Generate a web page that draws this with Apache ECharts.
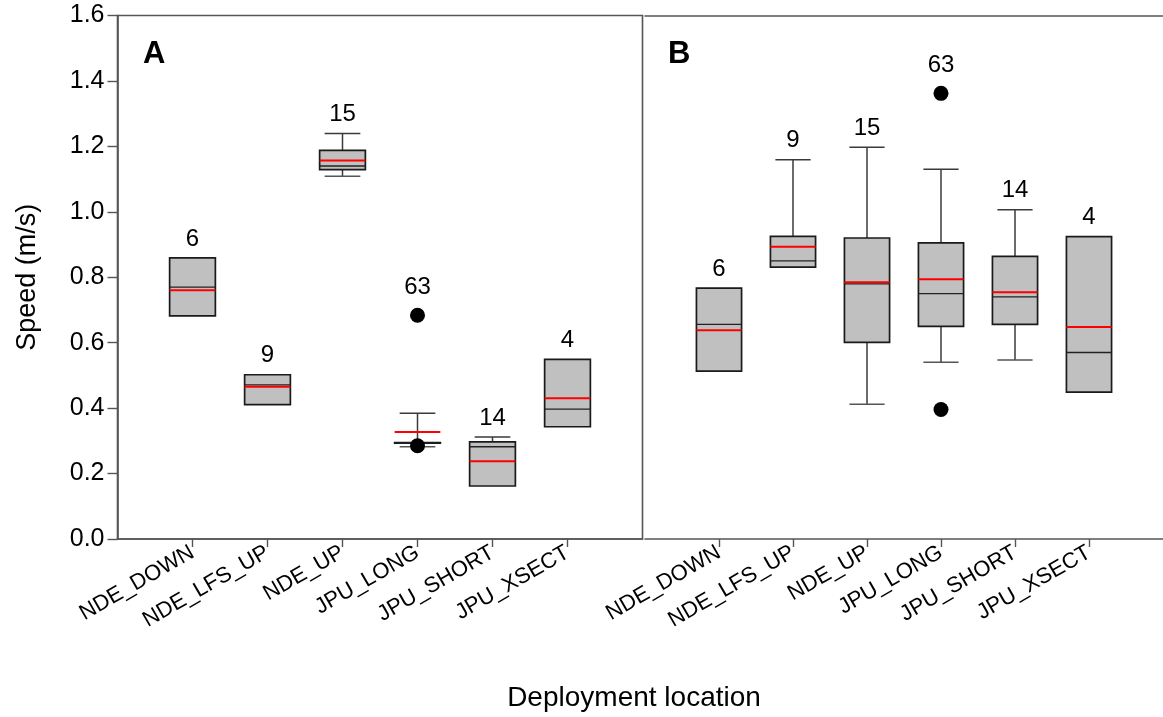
<!DOCTYPE html>
<html>
<head>
<meta charset="utf-8">
<script src="https://cdn.jsdelivr.net/npm/echarts@6/dist/echarts.min.js"></script>
<style>
html,body{margin:0;padding:0;background:#fff;}
#chart{width:1163px;height:717px;}
</style>
</head>
<body>
<div id="chart"></div>
<script>
var categories = ['NDE_DOWN', 'NDE_LFS_UP', 'NDE_UP', 'JPU_LONG', 'JPU_SHORT', 'JPU_XSECT'];
var counts = [6, 9, 15, 63, 14, 4];
var yTicks = [0.0, 0.2, 0.4, 0.6, 0.8, 1.0, 1.2, 1.4, 1.6];

// Panel A
var lowA   = [null, null, 1.109, 0.282, null, null];
var q1A    = [0.682, 0.411, 1.129, 0.293, 0.162, 0.343];
var medA   = [0.770, 0.471, 1.140, 0.294, 0.282, 0.397];
var q3A    = [0.859, 0.502, 1.188, 0.295, 0.297, 0.549];
var highA  = [null, null, 1.239, 0.384, 0.312, null];
var meanA  = [0.760, 0.465, 1.157, 0.327, 0.238, 0.430];
var outA   = [[], [], [], [0.684, 0.285], [], []];

// Panel B
var lowB   = [null, null, 0.412, 0.540, 0.547, null];
var q1B    = [0.513, 0.831, 0.601, 0.650, 0.656, 0.449];
var medB   = [0.656, 0.850, 0.780, 0.750, 0.740, 0.570];
var q3B    = [0.767, 0.925, 0.920, 0.905, 0.864, 0.924];
var highB  = [null, 1.159, 1.197, 1.130, 1.006, null];
var meanB  = [0.638, 0.893, 0.785, 0.794, 0.754, 0.648];
var outB   = [[], [], [], [1.362, 0.396], [], []];

var FONT = 'Liberation Sans, Arial, sans-serif';
var axisData = [''].concat(categories).concat(['']);

function makeRender(low, q1, med, q3, high, mean, outs) {
  return function (params, api) {
    var i = params.dataIndex;
    var x = i + 1;
    var boxHalf = api.size([1, 0])[0] * 0.305;
    var capHalf = boxHalf * 0.78;
    var c = function (v) { return api.coord([x, v]); };
    var children = [];
    var whiskerStyle = { stroke: '#3a3a3a', lineWidth: 1.5 };
    var cx = c(q1[i])[0];
    if (high[i] != null) {
      var pTop = c(high[i]), pQ3 = c(q3[i]);
      children.push({ type: 'line', shape: { x1: cx, y1: pTop[1], x2: cx, y2: pQ3[1] }, style: whiskerStyle });
      children.push({ type: 'line', shape: { x1: cx - capHalf, y1: pTop[1], x2: cx + capHalf, y2: pTop[1] }, style: whiskerStyle });
    }
    if (low[i] != null) {
      var pLow = c(low[i]), pQ1 = c(q1[i]);
      children.push({ type: 'line', shape: { x1: cx, y1: pQ1[1], x2: cx, y2: pLow[1] }, style: whiskerStyle });
      children.push({ type: 'line', shape: { x1: cx - capHalf, y1: pLow[1], x2: cx + capHalf, y2: pLow[1] }, style: { stroke: '#555', lineWidth: 1.5 } });
    }
    var yT = c(q3[i])[1], yB = c(q1[i])[1];
    children.push({ type: 'rect', shape: { x: cx - boxHalf, y: yT, width: boxHalf * 2, height: Math.max(yB - yT, 0.5) },
      style: { fill: '#c0c0c0', stroke: '#1a1a1a', lineWidth: 1.7 } });
    var yM = c(med[i])[1];
    children.push({ type: 'line', shape: { x1: cx - boxHalf, y1: yM, x2: cx + boxHalf, y2: yM }, style: { stroke: '#222', lineWidth: 1.3 } });
    var yMean = c(mean[i])[1];
    children.push({ type: 'line', shape: { x1: cx - boxHalf, y1: yMean, x2: cx + boxHalf, y2: yMean }, style: { stroke: '#ff0000', lineWidth: 2 } });
    var topV = Math.max(q3[i], high[i] != null ? high[i] : -1);
    var extra = 0;
    outs[i].forEach(function (v) {
      var p = c(v);
      children.push({ type: 'circle', shape: { cx: cx, cy: p[1], r: 7.5 }, style: { fill: '#000' } });
      if (v > topV) { topV = v; extra = 9; }
    });
    var yTop = c(topV)[1];
    children.push({ type: 'text', style: { text: String(counts[i]), x: cx, y: yTop - 19 - extra,
      align: 'center', verticalAlign: 'middle', fill: '#000', font: '24px ' + FONT } });
    return { type: 'group', children: children };
  };
}

function seriesData() {
  return categories.map(function (c, i) { return [i + 1, 0]; });
}

var chart = echarts.init(document.getElementById('chart'), null, { renderer: 'canvas' });

var commonX = function (gi) {
  return {
    type: 'category', gridIndex: gi, data: axisData, boundaryGap: false,
    axisLine: { show: true, lineStyle: { color: '#555', width: 1.6 } },
    axisTick: { show: true, length: 8, lineStyle: { color: '#555', width: 1.4 },
      interval: function (idx) { return idx > 0 && idx < axisData.length - 1; } },
    axisLabel: { rotate: 30, margin: 12, color: '#000', fontSize: 22, fontFamily: FONT,
      interval: function (idx) { return idx > 0 && idx < axisData.length - 1; } },
    splitLine: { show: false }
  };
};

var option = {
  backgroundColor: '#fff',
  animation: false,
  grid: [
    { left: 117.5, top: 15.5, width: 525, height: 523.5, show: true, borderColor: '#555', borderWidth: 1.6, backgroundColor: 'transparent' },
    { left: 645, top: 15.5, width: 525, height: 523.5, show: false }
  ],
  xAxis: [
    commonX(0),
    commonX(1),
    { type: 'category', gridIndex: 1, position: 'top', data: axisData, boundaryGap: false,
      axisLine: { show: true, lineStyle: { color: '#555', width: 1.6 } }, axisTick: { show: false }, axisLabel: { show: false } }
  ],
  yAxis: [
    { type: 'value', gridIndex: 0, min: 0, max: 1.6, interval: 0.2,
      name: 'Speed (m/s)', nameLocation: 'middle', nameGap: 76,
      nameTextStyle: { color: '#000', fontSize: 27, fontFamily: FONT },
      axisLine: { show: true, lineStyle: { color: '#555', width: 1.6 } },
      axisTick: { show: true, length: 10, lineStyle: { color: '#555', width: 1.4 } },
      axisLabel: { color: '#000', fontSize: 25, fontFamily: FONT, margin: 13,
        formatter: function (v) { return v.toFixed(1); } },
      splitLine: { show: false } },
    { type: 'value', gridIndex: 1, min: 0, max: 1.6, interval: 0.2,
      axisLine: { show: false }, axisTick: { show: false }, axisLabel: { show: false }, splitLine: { show: false } }
  ],
  graphic: [
    { type: 'text', style: { text: 'A', x: 143, y: 54, verticalAlign: 'middle', font: 'bold 31px ' + FONT, fill: '#000' } },
    { type: 'text', style: { text: 'B', x: 668, y: 54, verticalAlign: 'middle', font: 'bold 31px ' + FONT, fill: '#000' } },
    { type: 'text', style: { text: 'Deployment location', x: 634, y: 698, align: 'center', verticalAlign: 'middle', font: '28px ' + FONT, fill: '#000' } }
  ],
  series: [
    { type: 'custom', xAxisIndex: 0, yAxisIndex: 0, data: seriesData(),
      renderItem: makeRender(lowA, q1A, medA, q3A, highA, meanA, outA), clip: false },
    { type: 'custom', xAxisIndex: 1, yAxisIndex: 1, data: seriesData(),
      renderItem: makeRender(lowB, q1B, medB, q3B, highB, meanB, outB), clip: false }
  ]
};
chart.setOption(option);
</script>
</body>
</html>
